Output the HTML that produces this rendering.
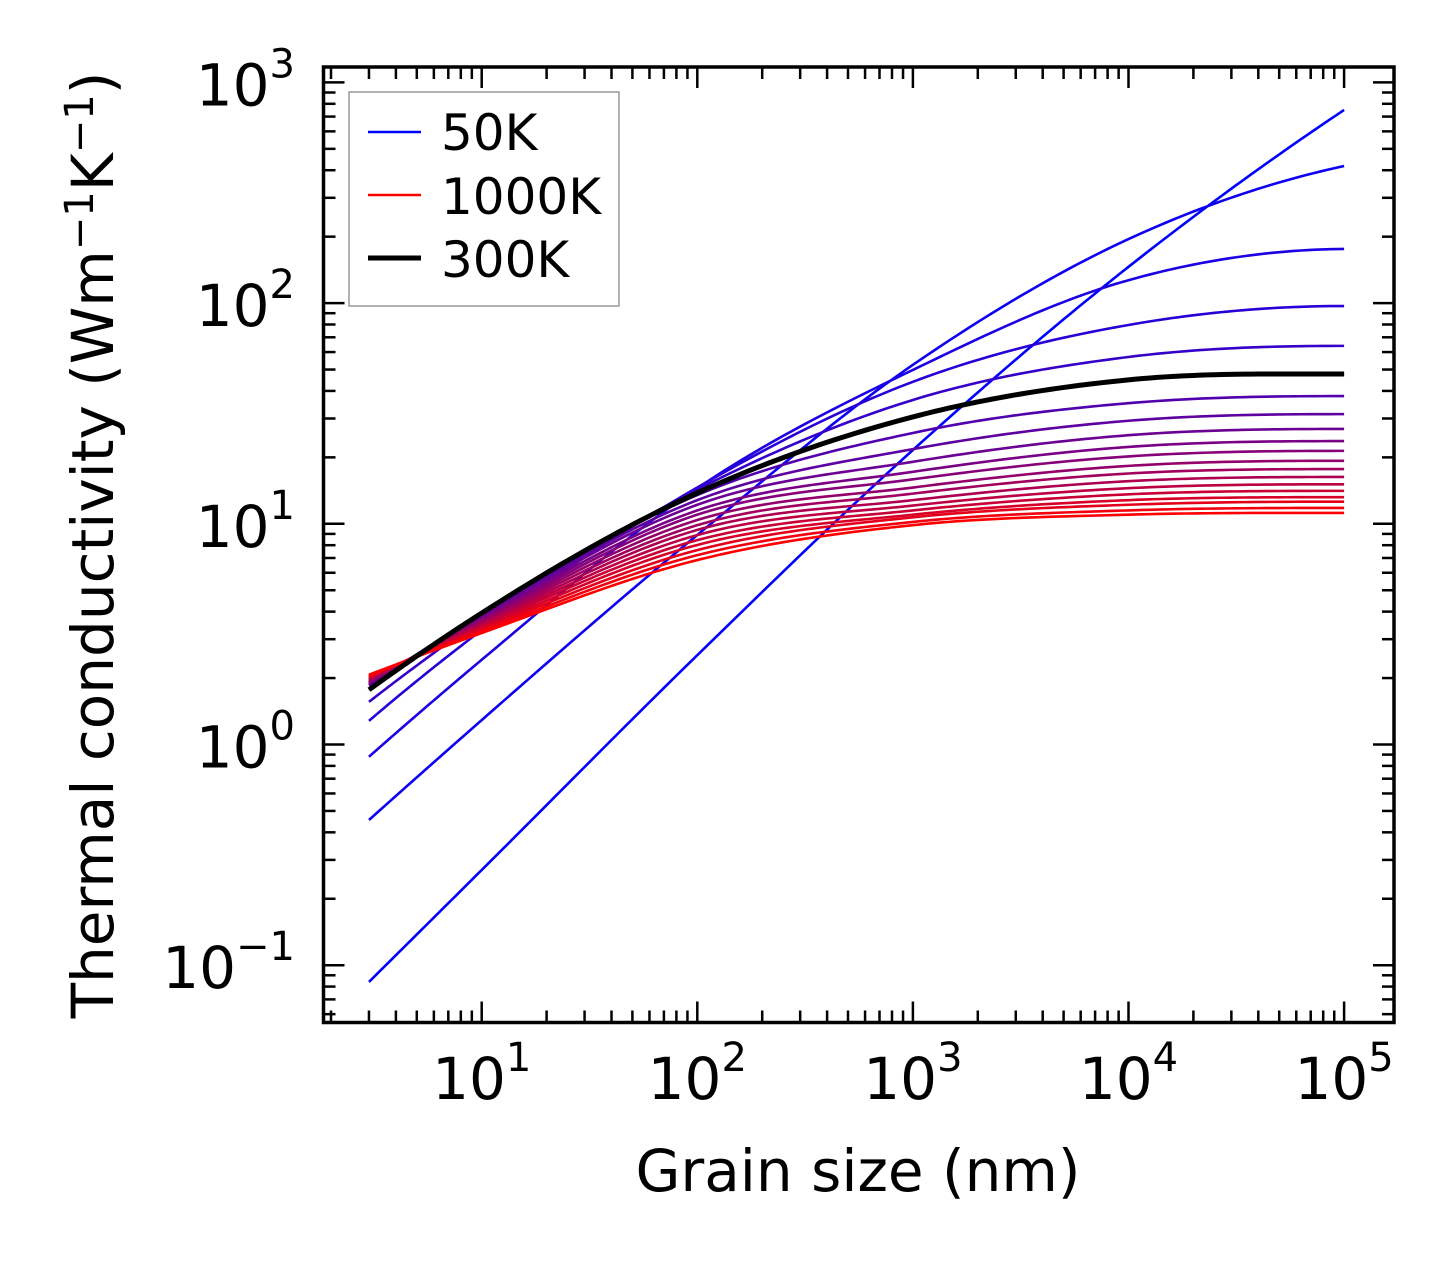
<!DOCTYPE html>
<html><head><meta charset="utf-8"><style>
html,body{margin:0;padding:0;background:#fff;}
svg{display:block;font-family:"DejaVu Sans","Liberation Sans",sans-serif;}
</style></head><body>
<svg id="chart" width="1454" height="1261" viewBox="0 0 1454 1261" xmlns="http://www.w3.org/2000/svg">
<rect x="0" y="0" width="1454" height="1261" fill="#fff"/>
<g id="series"></g>
<g id="ticks"></g>
<rect x="323.5" y="67" width="1070.5" height="955.5" fill="none" stroke="#000" stroke-width="3.5"/>
<g id="labels"></g>
<text x="858" y="1191" font-size="58" text-anchor="middle">Grain size (nm)</text>
<text transform="translate(113,545) rotate(-90)" font-size="58" text-anchor="middle">Thermal conductivity (Wm<tspan dy="-20" font-size="40">−1</tspan><tspan dy="20">K</tspan><tspan dy="-20" font-size="40">−1</tspan><tspan dy="20">)</tspan></text>
<g>
<rect x="349" y="92" width="270" height="214" fill="#fff" stroke="#999" stroke-width="1.5"/>
<line x1="368" y1="132" x2="421" y2="132" stroke="#0000ff" stroke-width="2.5"/>
<text x="441" y="150" font-size="50">50K</text>
<line x1="368" y1="195" x2="421" y2="195" stroke="#ff0000" stroke-width="2.5"/>
<text x="441" y="214" font-size="50">1000K</text>
<line x1="368" y1="258" x2="421" y2="258" stroke="#000" stroke-width="5"/>
<text x="441" y="277" font-size="50">300K</text>
</g>
</svg>
<script>
const grainSizes = [3, 10, 100, 1000, 10000, 100000];
const temperatures = [50,100,150,200,250,300,350,400,450,500,550,600,650,700,750,800,850,900,950,1000];
const k50 = [0.084, 0.27, 2.54, 21.6, 146, 750];
const k100 = [0.455, 1.29, 8.9, 52.5, 195, 418];
const k150 = [0.88, 2.42, 14.5, 49.8, 127, 176];
const k200 = [1.28, 3.3, 14.6, 44, 79.6, 97];
const k250 = [1.56, 3.7, 14.3, 36.4, 57, 64];
const k300 = [1.77, 3.94, 13.8, 30.5, 44.9, 47.7];
const k350 = [1.85, 3.90, 13.5, 25.8, 35.2, 37.9];
const k400 = [1.87, 3.85, 12.8, 21.8, 29.3, 31.4];
const k450 = [1.88, 3.79, 12.2, 19.1, 25.2, 26.9];
const k500 = [1.90, 3.74, 11.5, 17.2, 22.3, 23.7];
const k550 = [1.92, 3.68, 11.0, 15.9, 20.2, 21.4];
const k600 = [1.93, 3.63, 10.4, 14.6, 18.3, 19.3];
const k650 = [1.95, 3.58, 9.86, 13.7, 16.9, 17.7];
const k700 = [1.97, 3.52, 9.38, 12.8, 15.6, 16.3];
const k750 = [1.99, 3.47, 8.89, 12.1, 14.5, 15.1];
const k800 = [2.00, 3.42, 8.43, 11.5, 13.6, 14.1];
const k850 = [2.02, 3.36, 8.02, 11.0, 12.8, 13.2];
const k900 = [2.04, 3.31, 7.60, 10.7, 12.2, 12.6];
const k950 = [2.05, 3.25, 7.21, 10.2, 11.5, 11.8];
const k1000 = [2.07, 3.20, 6.85, 9.86, 11.0, 11.2];
const xTickLabels = ["1","2","3","4","5"];
const yTickLabels = ["−1","0","1","2","3"];

const allSeries = [k50,k100,k150,k200,k250,k300,k350,k400,k450,k500,k550,k600,k650,k700,k750,k800,k850,k900,k950,k1000];
const NS = "http://www.w3.org/2000/svg";
const X0 = 481.7, XD = 215.6, Y0 = 744.5, YD = 220.7;
const L = 323.5, R = 1394, T = 67, B = 1022.5;
function xs(v){ return X0 + (Math.log10(v) - 1) * XD; }
function ys(v){ return Y0 - Math.log10(v) * YD; }
function xsl(lv){ return X0 + (lv - 1) * XD; }
function ysl(lv){ return Y0 - lv * YD; }

function curvePath(vals){
  const px = grainSizes.map(v=>Math.log10(v));
  const py = vals.map(v=>Math.log10(v));
  const n = px.length;
  const sec = [];
  for(let i=0;i<n-1;i++) sec.push((py[i+1]-py[i])/(px[i+1]-px[i]));
  const m = new Array(n);
  for(let i=1;i<n-1;i++){
    const h0 = px[i]-px[i-1], h1 = px[i+1]-px[i];
    m[i] = (sec[i-1]*h1 + sec[i]*h0)/(h0+h1);
  }
  m[0] = 2*sec[0] - m[1];
  m[n-1] = 2*sec[n-2] - m[n-2];
  if(m[n-1] < 0) m[n-1] = 0;
  let d = "";
  for(let i=0;i<n-1;i++){
    const h = px[i+1]-px[i];
    for(let s=0;s<=30;s++){
      if(i>0 && s===0) continue;
      const t = s/30, t2=t*t, t3=t2*t;
      const lx = px[i] + h*t;
      const ly = (2*t3-3*t2+1)*py[i] + (t3-2*t2+t)*h*m[i] + (-2*t3+3*t2)*py[i+1] + (t3-t2)*h*m[i+1];
      d += (d?"L":"M") + xsl(lx).toFixed(2) + "," + ysl(ly).toFixed(2);
    }
  }
  return d;
}

const sg = document.getElementById("series");
allSeries.forEach((vals, i)=>{
  const t = i/(allSeries.length-1);
  const p = document.createElementNS(NS,"path");
  p.setAttribute("d", curvePath(vals));
  p.setAttribute("fill","none");
  p.setAttribute("stroke","rgb("+Math.round(255*t)+",0,"+Math.round(255*(1-t))+")");
  p.setAttribute("stroke-width","2.6");
  
  
  sg.appendChild(p);
});
const bp = document.createElementNS(NS,"path");
bp.setAttribute("d", curvePath(k300));
bp.setAttribute("fill","none");
bp.setAttribute("stroke","#000");
bp.setAttribute("stroke-width","5");


sg.appendChild(bp);

const tg = document.getElementById("ticks");
function line(x1,y1,x2,y2,w,name){
  const l = document.createElementNS(NS,"line");
  l.setAttribute("x1",x1); l.setAttribute("y1",y1); l.setAttribute("x2",x2); l.setAttribute("y2",y2);
  l.setAttribute("stroke","#000"); l.setAttribute("stroke-width",w);
  
  
  tg.appendChild(l);
}
for(let e=0;e<=5;e++){
  for(let k=1;k<=9;k++){
    const x = xs(k*Math.pow(10,e));
    if(x < L+1 || x > R-1) continue;
    const len = k===1 ? 21 : 12;
    line(x,B,x,B-len,2.5,"x-tick");
    line(x,T,x,T+len,2.5,"x-tick-top");
  }
}
for(let e=-2;e<=3;e++){
  for(let k=1;k<=9;k++){
    const y = ys(k*Math.pow(10,e));
    if(y < T+1 || y > B-1) continue;
    const len = k===1 ? 21 : 12;
    line(L,y,L+len,y,2.5,"y-tick");
    line(R,y,R-len,y,2.5,"y-tick-right");
  }
}

const lg = document.getElementById("labels");
xTickLabels.forEach((lab,i)=>{
  const x = xsl(Number(lab));
  const t = document.createElementNS(NS,"text");
  t.setAttribute("x", x); t.setAttribute("y", 1099);
  t.setAttribute("font-size","58"); t.setAttribute("text-anchor","middle");
  t.innerHTML = '10<tspan dy="-28" font-size="40">'+lab+'</tspan>';
  
  
  lg.appendChild(t);
});
yTickLabels.forEach((lab,i)=>{
  const v = Number(lab.replace("−","-"));
  const y = ysl(v);
  const t = document.createElementNS(NS,"text");
  t.setAttribute("x", 295); t.setAttribute("y", y+23);
  t.setAttribute("font-size","58"); t.setAttribute("text-anchor","end");
  t.innerHTML = '10<tspan dy="-28" font-size="40">'+lab+'</tspan>';
  
  
  lg.appendChild(t);
});
</script>
</body></html>
